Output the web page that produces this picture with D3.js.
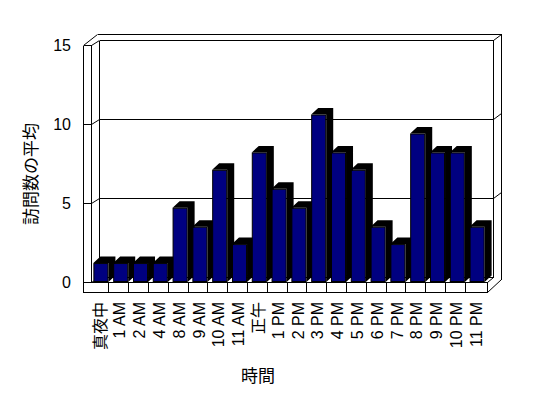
<!DOCTYPE html>
<html>
<head>
<meta charset="utf-8">
<script src="https://cdn.jsdelivr.net/npm/d3@7"></script>
<style>
  body { margin: 0; background: #fff; }
  text { font-family: "Liberation Sans", Arial, "Noto Sans CJK JP", sans-serif; fill: #000; }
</style>
</head>
<body>
<script>
// data
var categories = ["真夜中", "1 AM", "2 AM", "4 AM", "8 AM", "9 AM", "10 AM", "11 AM", "正午",
                  "1 PM", "2 PM", "3 PM", "4 PM", "5 PM", "6 PM", "7 PM", "8 PM", "9 PM", "10 PM", "11 PM"];
var visits = [1.2, 1.2, 1.2, 1.2, 4.7, 3.5, 7.1, 2.4, 8.2,
              5.9, 4.7, 10.6, 8.2, 7.1, 3.5, 2.4, 9.4, 8.2, 8.2, 3.5];
var yTicks = [0, 5, 10, 15];
var yTitle = "訪問数の平均";
var xTitle = "時間";

var width = 548, height = 398;

var x = d3.scaleBand()
    .domain(categories)
    .range([91, 487])
    .paddingInner(0.24)
    .paddingOuter(0.12);

var y = d3.scaleLinear()
    .domain([0, 15])
    .range([282, 45]);

var svg = d3.select("body").append("svg")
    .attr("width", width)
    .attr("height", height);

var left = x.range()[0], right = x.range()[1],
    y0 = y(0), yTop = y(15);

// wall / floor frame
var frame = svg.append("g")
    .attr("fill", "none")
    .attr("stroke", "#000")
    .attr("stroke-width", 1)
    .attr("shape-rendering", "crispEdges");

function seg(pts) {
  frame.append("path")
      .attr("d", d3.line()(pts.map(function(p) { return [p[0] + 0.5, p[1] + 0.5]; })))
      .attr("shape-rendering", pts.some(function(p, i) {
        return i > 0 && p[0] != pts[i - 1][0] && p[1] != pts[i - 1][1];
      }) ? "auto" : "crispEdges");
}

// left wall
seg([[left - 8, yTop], [left - 8, y0 + 10]]);
seg([[left, yTop], [left, y0]]);
seg([[left - 8, yTop], [left, yTop]]);
seg([[left - 8, yTop], [left + 6, yTop - 11]]);
seg([[left, yTop], [left + 8, yTop - 5]]);
// back wall
seg([[left + 6, yTop - 11], [right + 14, yTop - 11]]);
seg([[left + 8, yTop - 5], [right + 6, yTop - 5]]);
seg([[left + 8, yTop - 5], [left + 8, y0 - 5]]);
seg([[right + 6, yTop - 5], [right + 6, y0 - 5]]);
seg([[right + 6, yTop - 5], [right + 14, yTop - 11]]);
seg([[right + 14, yTop - 11], [right + 14, y0 - 3]]);
// floor
seg([[left - 8, y0 + 10], [right, y0 + 10]]);
seg([[left - 8, y0], [right, y0]]);
seg([[right, y0], [right, y0 + 10]]);
seg([[right, y0 + 10], [right + 14, y0 - 3]]);
seg([[right, y0], [right + 6, y0 - 5]]);
seg([[left, y0], [left + 8, y0 - 5]]);
seg([[left + 8, y0 - 5], [right + 6, y0 - 5]]);

// gridlines
yTicks.filter(function(v) { return v > 0 && v < 15; }).forEach(function(v) {
  var yv = y(v);
  seg([[left - 8, yv], [left, yv]]);
  seg([[left, yv], [left + 8, yv - 5]]);
  seg([[left + 8, yv - 5], [right + 6, yv - 5]]);
  seg([[right + 6, yv - 5], [right + 14, yv - 11]]);
});

// category ticks on floor front
categories.slice(1).forEach(function(c) {
  var xt = Math.round(x(c) - x.step() * x.paddingInner());
  seg([[xt, y0], [xt, y0 + 10]]);
});

// bars
var bdx = 7, bdy = -6.5, bw = x.bandwidth();
var bars = svg.append("g").selectAll("g")
    .data(categories)
  .enter().append("g");

bars.append("path")
    .attr("fill", "#000")
    .attr("d", function(d, i) {
      var x0 = x(d), yt = y(visits[i]);
      return "M" + [x0, yt] + "L" + [x0 + bdx, yt + bdy] + "L" + [x0 + bw + bdx, yt + bdy] +
             "L" + [x0 + bw + bdx, y0 + bdy] + "L" + [x0 + bw, y0] + "L" + [x0 + bw, yt] + "Z";
    });

bars.append("rect")
    .attr("x", function(d) { return x(d) + 0.5; })
    .attr("y", function(d, i) { return y(visits[i]) + 0.5; })
    .attr("width", bw - 1)
    .attr("height", function(d, i) { return y0 - y(visits[i]) - 1; })
    .attr("fill", "#000080")
    .attr("stroke", "#000")
    .attr("stroke-width", 1);

// y tick labels
svg.append("g").selectAll("text")
    .data(yTicks)
  .enter().append("text")
    .attr("x", 71)
    .attr("y", function(d) { return y(d); })
    .attr("dy", "0.35em")
    .attr("text-anchor", "end")
    .style("font-size", "16px")
    .text(function(d) { return d; });

// category labels
svg.append("g").selectAll("text")
    .data(categories)
  .enter().append("text")
    .attr("transform", function(d) {
      return "translate(" + (x(d) + bw / 2 - 1) + "," + 302 + ") rotate(-90)";
    })
    .attr("dy", "0.35em")
    .attr("text-anchor", "end")
    .style("font-size", "16px")
    .text(function(d) { return d; });

// axis titles
svg.append("text")
    .attr("transform", "translate(31,174) rotate(-90)")
    .attr("dy", "0.35em")
    .attr("text-anchor", "middle")
    .style("font-size", "17px")
    .text(yTitle);

svg.append("text")
    .attr("x", 258)
    .attr("y", 376)
    .attr("dy", "0.35em")
    .attr("text-anchor", "middle")
    .style("font-size", "17px")
    .text(xTitle);
</script>
</body>
</html>
